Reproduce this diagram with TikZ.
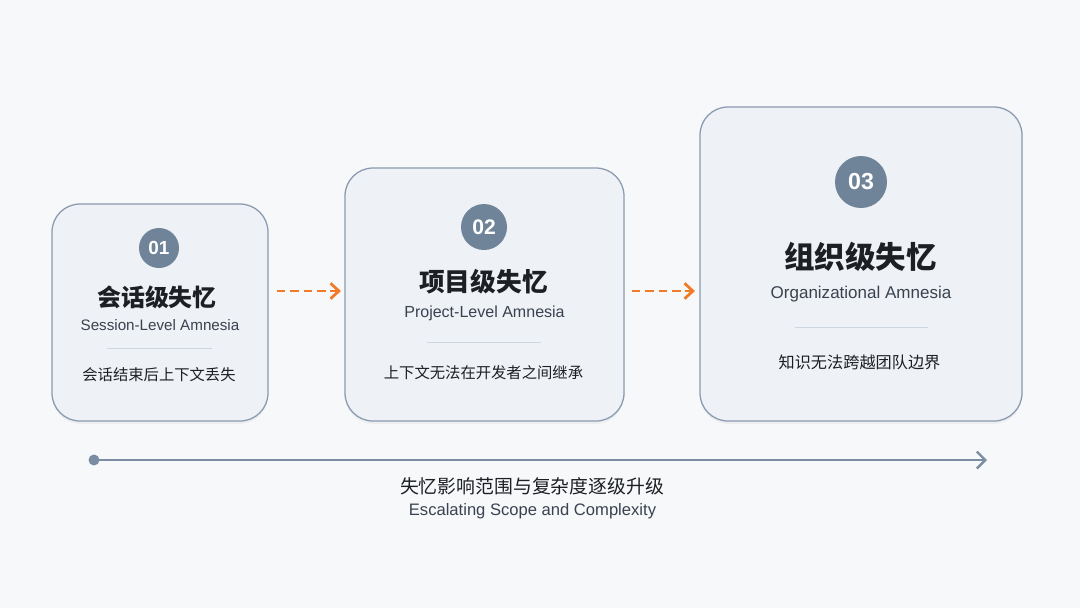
\documentclass[tikz,border=0pt]{standalone}
\usepackage{fontspec}
\setmainfont{Liberation Sans}
\newfontfamily\cjk{Noto Sans CJK SC}
\usetikzlibrary{arrows.meta,shadows}
\definecolor{bgcol}{HTML}{F7F8FA}
\definecolor{boxfill}{HTML}{EEF1F5}
\definecolor{boxline}{HTML}{8A9AB0}
\definecolor{badge}{HTML}{6F8399}
\definecolor{axis}{HTML}{7B8DA3}
\definecolor{flow}{HTML}{F27B2A}
\definecolor{sepline}{HTML}{CDD5DF}
\definecolor{titletxt}{HTML}{1C1F24}
\definecolor{subtxt}{HTML}{3A4250}
\tikzset{
  card/.style={draw=boxline,line width=0.9pt,fill=boxfill,rounded corners=0.7cm,
    drop shadow={shadow xshift=0pt,shadow yshift=-2pt,opacity=0.08}},
  badgenode/.style={circle,fill=badge,text=white,inner sep=0pt},
  flowarrow/.style={-{Straight Barb[length=6pt,width=11pt,line width=2pt]},flow,line width=2pt,dash pattern=on 6pt off 3.5pt},
}
\begin{document}
\begin{tikzpicture}[x=0.025cm,y=-0.025cm]
\fill[bgcol] (0,0) rectangle (1080,608);
\useasboundingbox (0,0) rectangle (1080,608);
% stage cards
\node[card,minimum width=216*0.025cm,minimum height=217*0.025cm](C1) at (160,312.5){};
\node[card,minimum width=279*0.025cm,minimum height=253*0.025cm](C2) at (484.5,294.5){};
\node[card,minimum width=322*0.025cm,minimum height=314*0.025cm](C3) at (861,264){};
% card 1
\node[badgenode,minimum size=40*0.025cm,font=\bfseries\fontsize{13.5}{15}\selectfont](N1) at (159,248){01};
\node[font=\cjk\bfseries\fontsize{17}{20}\selectfont,text=titletxt](T1) at (157,297){会话级失忆};
\node[font=\fontsize{10.8}{12}\selectfont,text=subtxt](S1) at (160,325){Session-Level Amnesia};
\draw[sepline,line width=0.7pt] (107,348) -- (212,348);
\node[font=\cjk\fontsize{10.9}{13}\selectfont,text=titletxt](D1) at (159,375){会话结束后上下文丢失};
% card 2
\node[badgenode,minimum size=46*0.025cm,font=\bfseries\fontsize{15}{17}\selectfont](N2) at (484,227){02};
\node[font=\cjk\bfseries\fontsize{18.3}{21}\selectfont,text=titletxt](T2) at (483.5,282){项目级失忆};
\node[font=\fontsize{11.4}{13}\selectfont,text=subtxt](S2) at (484.5,313){Project-Level Amnesia};
\draw[sepline,line width=0.7pt] (427,342) -- (541,342);
\node[font=\cjk\fontsize{10.9}{13}\selectfont,text=titletxt](D2) at (483.5,373){上下文无法在开发者之间继承};
% card 3
\node[badgenode,minimum size=52*0.025cm,font=\bfseries\fontsize{16.5}{19}\selectfont](N3) at (861,182){03};
\node[font=\cjk\bfseries\fontsize{21.7}{25}\selectfont,text=titletxt](T3) at (860.5,257){组织级失忆};
\node[font=\fontsize{12.1}{14}\selectfont,text=subtxt](S3) at (861,294){Organizational Amnesia};
\draw[sepline,line width=0.7pt] (795,327) -- (928,327);
\node[font=\cjk\fontsize{11.5}{14}\selectfont,text=titletxt](D3) at (859.5,362){知识无法跨越团队边界};
% flow between cards
\coordinate (A1) at (277,291);
\coordinate (B1) at (341,291);
\coordinate (A2) at (632,291);
\coordinate (B2) at (695,291);
\draw[flowarrow] (A1) -- (B1);
\draw[flowarrow] (A2) -- (B2);
% scope axis
\coordinate (X0) at (94,460);
\coordinate (X1) at (987,460);
\fill[axis] (X0) circle (5.5);
\draw[axis,line width=1.7pt,-{Straight Barb[length=6pt,width=12pt,line width=1.7pt]}] (X0) -- (X1);
\node[font=\cjk\fontsize{13.4}{16}\selectfont,text=titletxt](L1) at (532,486){失忆影响范围与复杂度逐级升级};
\node[font=\fontsize{11.8}{14}\selectfont,text=subtxt](L2) at (532.5,511){Escalating Scope and Complexity};
\end{tikzpicture}
\end{document}
